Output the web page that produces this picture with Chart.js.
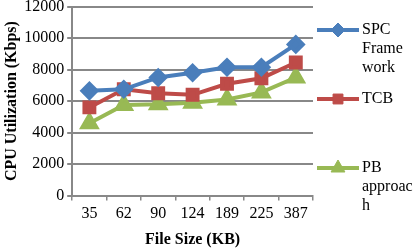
<!DOCTYPE html>
<html lang="en">
<head>
<meta charset="UTF-8">
<title>CPU Utilization vs File Size</title>
<script src="https://cdn.jsdelivr.net/npm/chart.js"></script>
<style>
  html, body { margin: 0; padding: 0; background: #fff; overflow: hidden; }
  #wrap { width: 414px; height: 249px; overflow: hidden; position: relative; }
  #chart { position: absolute; left: 0; top: -6px; }
</style>
</head>
<body>
<div id="wrap"><canvas id="chart" width="414" height="255"></canvas></div>
<script>
  const fileSizes = ['35', '62', '90', '124', '189', '225', '387'];
  const spcValues = [6650, 6750, 7500, 7800, 8150, 8150, 9600];
  const tcbValues = [5600, 6750, 6500, 6400, 7100, 7450, 8450];
  const pbValues = [4600, 5750, 5800, 5900, 6100, 6550, 7500];
  const legendLines = [['SPC', 'Frame', 'work'], ['TCB'], ['PB', 'approac', 'h']];

  const serif = '"Liberation Serif", "DejaVu Serif", serif';

  // legend drawn by hand so the labels can wrap like the original
  const sideLegend = {
    id: 'sideLegend',
    afterDraw(chart) {
      const ctx = chart.ctx;
      const rowsY = [36, 105, 174];
      chart.data.datasets.forEach((ds, i) => {
        const y = rowsY[i];
        ctx.save();
        ctx.strokeStyle = ds.borderColor;
        ctx.lineWidth = 4;
        ctx.beginPath();
        ctx.moveTo(317, y);
        ctx.lineTo(359, y);
        ctx.stroke();
        ctx.fillStyle = ds.borderColor;
        ctx.lineWidth = 1;
        Chart.helpers.drawPoint(ctx, {
          pointStyle: ds.pointStyle, radius: ds.pointRadius, borderWidth: 1
        }, 338, y);
        ctx.fillStyle = '#000';
        ctx.font = '16px ' + serif;
        ctx.textBaseline = 'middle';
        legendLines[i].forEach((t, j) => ctx.fillText(t, 362, y + j * 19));
        ctx.restore();
      });
    }
  };

  new Chart(document.getElementById('chart'), {
    type: 'line',
    data: {
      labels: fileSizes,
      datasets: [
        { label: 'SPC Framework', data: spcValues, borderColor: '#4A7EBB', backgroundColor: '#4A7EBB',
          pointStyle: 'rectRot', pointRadius: 7, borderWidth: 4 },
        { label: 'TCB', data: tcbValues, borderColor: '#BE4B48', backgroundColor: '#BE4B48',
          pointStyle: 'rect', pointRadius: 7, borderWidth: 4 },
        { label: 'PB approach', data: pbValues, borderColor: '#98B954', backgroundColor: '#98B954',
          pointStyle: 'triangle', pointRadius: 8, borderWidth: 4 }
      ]
    },
    options: {
      responsive: false,
      animation: false,
      layout: { padding: { top: 0, right: 101, left: 0, bottom: 0 } },
      plugins: { legend: { display: false }, tooltip: { enabled: false } },
      elements: { line: { tension: 0 }, point: { borderWidth: 1 } },
      scales: {
        x: {
          offset: true,
          grid: { display: true, drawOnChartArea: false, color: '#888', lineWidth: 1.5, tickLength: 5, offset: true },
          border: { color: '#888', width: 2 },
          ticks: { color: '#000', font: { family: serif, size: 16 }, padding: 4 },
          title: { display: true, text: 'File Size (KB)', color: '#000', font: { family: serif, size: 16, weight: 'bold' }, padding: { top: 2, bottom: 0 } }
        },
        y: {
          min: 0, max: 12000,
          grid: { color: '#888', lineWidth: 2, tickLength: 5 },
          border: { color: '#888', width: 2 },
          ticks: { stepSize: 2000, color: '#000', font: { family: serif, size: 16 }, padding: 3,
            callback: v => String(v) },
          title: { display: true, text: 'CPU Utilization (Kbps)', color: '#000', font: { family: serif, size: 16, weight: 'bold' }, padding: { top: 2, bottom: 0 } }
        }
      }
    },
    plugins: [sideLegend]
  });
</script>
</body>
</html>
